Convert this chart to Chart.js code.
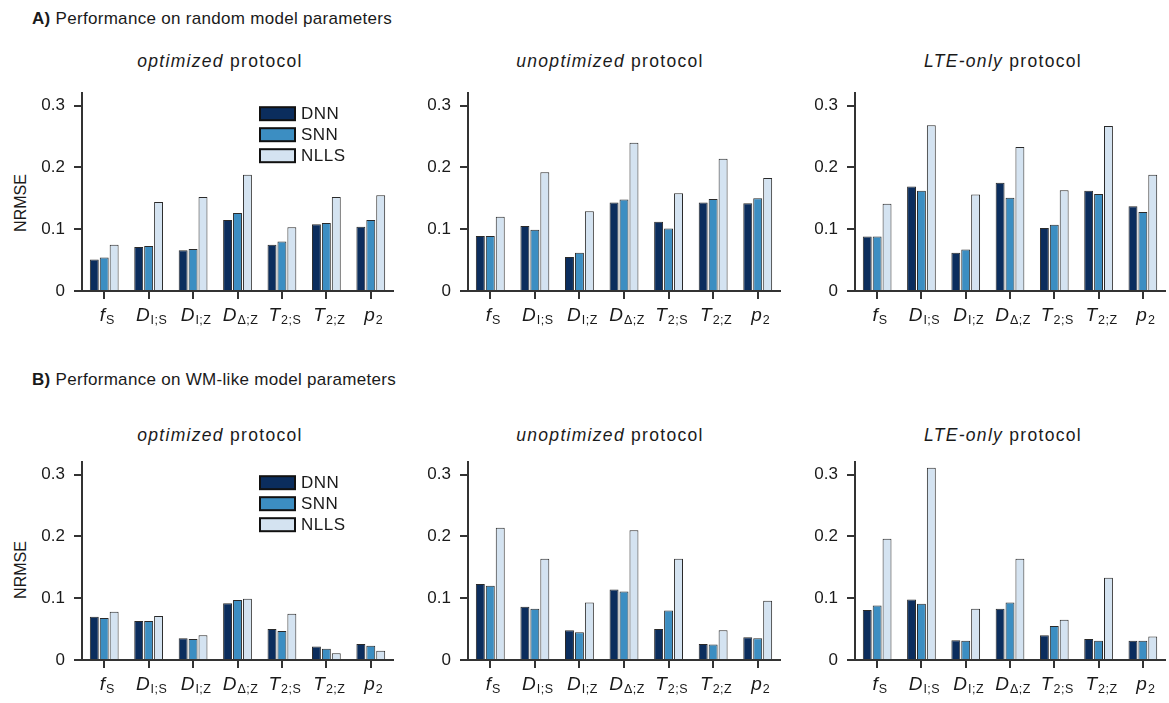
<!DOCTYPE html>
<html><head><meta charset="utf-8">
<script src="https://cdn.jsdelivr.net/npm/chart.js@4/dist/chart.umd.min.js"></script>
<style>
html,body{margin:0;padding:0;background:#fff;}
body{width:1169px;height:703px;position:relative;overflow:hidden;font-family:"Liberation Sans",Arial,sans-serif;color:#1a1a1a;}
.box{position:absolute;}
.hd{position:absolute;left:32px;font-size:17px;line-height:17px;letter-spacing:0.3px;white-space:nowrap;}
.pt{position:absolute;width:300px;text-align:center;font-size:17.5px;line-height:17px;letter-spacing:1.3px;white-space:nowrap;}
.yl{position:absolute;font-size:16px;line-height:16px;letter-spacing:0px;transform:translate(-50%,-50%) rotate(-90deg);white-space:nowrap;}
</style></head><body>
<div class="hd" style="top:10px"><b>A)</b> Performance on random model parameters</div>
<div class="hd" style="top:371px"><b>B)</b> Performance on WM-like model parameters</div>
<div class="pt" style="left:70px;top:53px"><i>optimized</i> protocol</div>
<div class="pt" style="left:460px;top:53px"><i>unoptimized</i> protocol</div>
<div class="pt" style="left:853px;top:53px"><i>LTE-only</i> protocol</div>
<div class="pt" style="left:70px;top:427px"><i>optimized</i> protocol</div>
<div class="pt" style="left:460px;top:427px"><i>unoptimized</i> protocol</div>
<div class="pt" style="left:853px;top:427px"><i>LTE-only</i> protocol</div>
<div class="yl" style="left:21px;top:203px">NRMSE</div>
<div class="yl" style="left:21px;top:570px">NRMSE</div>
<div class="box" id="wA1"><canvas id="cA1"></canvas></div>
<div class="box" id="wA2"><canvas id="cA2"></canvas></div>
<div class="box" id="wA3"><canvas id="cA3"></canvas></div>
<div class="box" id="wB1"><canvas id="cB1"></canvas></div>
<div class="box" id="wB2"><canvas id="cB2"></canvas></div>
<div class="box" id="wB3"><canvas id="cB3"></canvas></div>
<script>
// ---- categories / tick labels ----
const labelMain = ['f','D','D','D','T','T','p'];
const labelSub  = ['S','I;S','I;Z','\u0394;Z','2;S','2;Z','2'];
const seriesNames = ['DNN','SNN','NLLS'];
const yTickValues = [0, 0.1, 0.2, 0.3];
const yTickLabels = ['0', '0.1', '0.2', '0.3'];
const yMax = 0.32;

// ---- A) random model parameters ----
const randOptDNN   = [0.051, 0.071, 0.066, 0.115, 0.075, 0.108, 0.104];
const randOptSNN   = [0.054, 0.073, 0.068, 0.126, 0.080, 0.110, 0.115];
const randOptNLLS  = [0.075, 0.144, 0.152, 0.188, 0.103, 0.152, 0.155];
const randUnoptDNN  = [0.089, 0.105, 0.055, 0.143, 0.112, 0.143, 0.142];
const randUnoptSNN  = [0.089, 0.099, 0.062, 0.148, 0.101, 0.149, 0.150];
const randUnoptNLLS = [0.120, 0.192, 0.129, 0.240, 0.158, 0.214, 0.183];
const randLteDNN   = [0.088, 0.169, 0.062, 0.175, 0.102, 0.162, 0.137];
const randLteSNN   = [0.088, 0.162, 0.067, 0.151, 0.107, 0.157, 0.128];
const randLteNLLS  = [0.141, 0.268, 0.156, 0.233, 0.163, 0.267, 0.188];

// ---- B) WM-like model parameters ----
const wmOptDNN   = [0.070, 0.063, 0.035, 0.092, 0.050, 0.022, 0.026];
const wmOptSNN   = [0.068, 0.063, 0.034, 0.097, 0.047, 0.018, 0.023];
const wmOptNLLS  = [0.078, 0.071, 0.040, 0.099, 0.075, 0.011, 0.015];
const wmUnoptDNN  = [0.123, 0.086, 0.048, 0.114, 0.050, 0.026, 0.037];
const wmUnoptSNN  = [0.120, 0.083, 0.045, 0.111, 0.080, 0.025, 0.035];
const wmUnoptNLLS = [0.214, 0.164, 0.093, 0.210, 0.164, 0.048, 0.096];
const wmLteDNN   = [0.081, 0.098, 0.032, 0.083, 0.040, 0.034, 0.031];
const wmLteSNN   = [0.088, 0.091, 0.031, 0.093, 0.055, 0.031, 0.031];
const wmLteNLLS  = [0.196, 0.311, 0.083, 0.164, 0.065, 0.133, 0.038];

// ---- styling ----
const seriesColors = ['#0b2d5d', '#3c8ec2', '#d4e3f1'];
const FONT = '"Liberation Sans", Arial, sans-serif';
const AXIS = '#333333';
const TEXT = '#1a1a1a';

const panels = [
  {id:'A1', data:[randOptDNN, randOptSNN, randOptNLLS], legend:true},
  {id:'A2', data:[randUnoptDNN, randUnoptSNN, randUnoptNLLS], legend:false},
  {id:'A3', data:[randLteDNN, randLteSNN, randLteNLLS], legend:false},
  {id:'B1', data:[wmOptDNN, wmOptSNN, wmOptNLLS], legend:true},
  {id:'B2', data:[wmUnoptDNN, wmUnoptSNN, wmUnoptNLLS], legend:false},
  {id:'B3', data:[wmLteDNN, wmLteSNN, wmLteNLLS], legend:false}
];
// canvas boxes (layout only)
const boxes = {
  A1:{l:12, t:74, w:385, h:257}, A2:{l:398, t:74, w:386, h:257}, A3:{l:785, t:74, w:384, h:257},
  B1:{l:12, t:443, w:385, h:257}, B2:{l:398, t:443, w:386, h:257}, B3:{l:785, t:443, w:384, h:257}
};

function setLS(ctx, v){ if ('letterSpacing' in ctx) ctx.letterSpacing = v; }

const xLabels = {
  id:'xLabels',
  afterDraw(chart){
    const sx = chart.scales.x, ctx = chart.ctx;
    ctx.save();
    ctx.fillStyle = TEXT;
    ctx.textBaseline = 'alphabetic';
    ctx.textAlign = 'left';
    const base = sx.top + 30;
    sx.ticks.forEach((t, i) => {
      const x = sx.getPixelForTick(i);
      const m = labelMain[i], s = labelSub[i];
      ctx.font = 'italic 19px ' + FONT; setLS(ctx, '0px');
      const wm = ctx.measureText(m).width;
      ctx.font = '12.5px ' + FONT; setLS(ctx, '0.5px');
      const ws = ctx.measureText(s).width;
      const x0 = x - (wm + ws + 1) / 2 + 3;
      ctx.font = 'italic 19px ' + FONT; setLS(ctx, '0px');
      ctx.fillText(m, x0, base);
      ctx.font = '12.5px ' + FONT; setLS(ctx, '0.5px');
      ctx.fillText(s, x0 + wm + 1, base + 3);
    });
    ctx.restore();
  }
};

const boxLegend = {
  id:'boxLegend',
  afterDraw(chart, args, opts){
    if (!opts || !opts.show) return;
    const a = chart.chartArea, ctx = chart.ctx;
    ctx.save();
    chart.data.datasets.forEach((ds, i) => {
      const x = a.left + 178, y = a.top + 14 + i * 21;
      ctx.fillStyle = ds.backgroundColor;
      ctx.fillRect(x, y, 35, 13);
      ctx.lineWidth = 2;
      ctx.strokeStyle = '#111';
      ctx.strokeRect(x, y, 35, 13);
      ctx.fillStyle = TEXT;
      ctx.font = '17px ' + FONT; setLS(ctx, '0.5px');
      ctx.textBaseline = 'middle';
      ctx.textAlign = 'left';
      ctx.fillText(ds.label, x + 41, y + 7);
    });
    ctx.restore();
  }
};

panels.forEach(p => {
  const b = boxes[p.id];
  const wrap = document.getElementById('w' + p.id);
  wrap.style.left = b.l + 'px'; wrap.style.top = b.t + 'px';
  wrap.style.width = b.w + 'px'; wrap.style.height = b.h + 'px';
  new Chart(document.getElementById('c' + p.id), {
    type:'bar',
    data:{
      labels: labelMain.map((m, i) => m + labelSub[i]),
      datasets: seriesNames.map((n, k) => ({
        label:n, data:p.data[k], backgroundColor:seriesColors[k],
        borderColor:'#2a2a2a', borderWidth:1,
        categoryPercentage:0.67, barPercentage:0.9
      }))
    },
    options:{
      responsive:true, maintainAspectRatio:false, animation:false,
      layout:{padding:{top:10, right:4, left:0, bottom:0}},
      plugins:{legend:{display:false}, tooltip:{enabled:false}, boxLegend:{show:p.legend}},
      scales:{
        x:{
          offset:true,
          grid:{display:true, drawOnChartArea:false, drawTicks:true, tickLength:8, offset:false, color:AXIS, lineWidth:2},
          border:{display:true, color:AXIS, width:2},
          ticks:{display:false},
          afterFit:s => { s.height = 40; }
        },
        y:{
          min:0, max:yMax,
          afterBuildTicks:s => { s.ticks = yTickValues.map(v => ({value:v})); },
          ticks:{callback:v => yTickLabels[yTickValues.indexOf(v)], font:{size:17, family:FONT}, color:TEXT, padding:9},
          grid:{display:true, drawOnChartArea:false, drawTicks:true, tickLength:8, color:AXIS, lineWidth:2},
          border:{display:true, color:AXIS, width:2},
          afterFit:s => { s.width = 70; }
        }
      }
    },
    plugins:[xLabels, boxLegend]
  });
});
</script>
</body></html>
